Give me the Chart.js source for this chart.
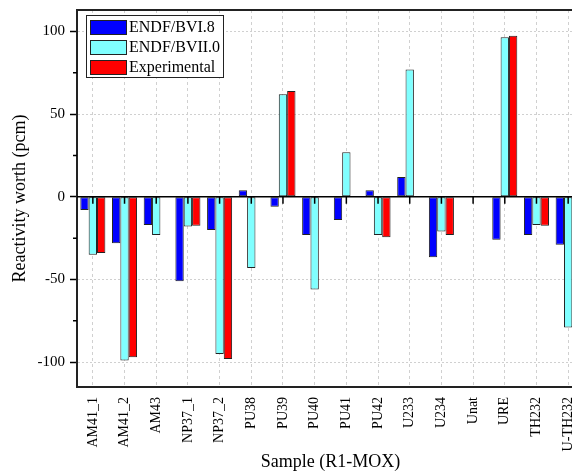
<!DOCTYPE html>
<html>
<head>
<meta charset="utf-8">
<script src="https://cdn.jsdelivr.net/npm/chart.js@4"></script>
<style>
  html, body { margin: 0; padding: 0; overflow: hidden; background: #fff; }
</style>
</head>
<body>
<canvas id="worth_chart" width="584" height="473"></canvas>
<script>
const categories = ['AM41_1', 'AM41_2', 'AM43', 'NP37_1', 'NP37_2', 'PU38', 'PU39', 'PU40',
                    'PU41', 'PU42', 'U233', 'U234', 'Unat', 'URE', 'TH232', 'U-TH232'];
const endfb68 = [-8, -28, -17, -51, -20, 4, -6, -23, -14, 4, 12, -36.5, null, -26, -23, -29];
const endfb70 = [-35, -99, -23, -18, -95, -43, 62, -56, 27, -23, 77, -21, null, 96.5, -17, -79];
const experimental = [-34, -97, null, -17.5, -98, null, 64, null, null, -24.5, null, -23, null, 97.5, -17.5, null];
const minorTicks = [-75, -25, 25, 75];

const serif = 'Liberation Serif, Times New Roman, serif';

// zero line, ticks on it, top border, minor y ticks
const framePlugin = {
    id: 'frame',
    afterDatasetsDraw(chart) {
        const { ctx, chartArea, scales } = chart;
        const y0 = scales.y.getPixelForValue(0);
        ctx.save();
        ctx.strokeStyle = '#000';
        ctx.lineWidth = 1.5;
        ctx.beginPath();
        ctx.moveTo(chartArea.left, y0);
        ctx.lineTo(chartArea.right, y0);
        categories.forEach((c, i) => {
            const x = scales.x.getPixelForValue(i);
            ctx.moveTo(x, y0);
            ctx.lineTo(x, y0 + 7);
        });
        ctx.stroke();
        ctx.beginPath();
        minorTicks.forEach(v => {
            const y = scales.y.getPixelForValue(v);
            ctx.moveTo(chartArea.left - 4, y);
            ctx.lineTo(chartArea.left, y);
        });
        ctx.stroke();
        ctx.strokeStyle = '#222';
        ctx.lineWidth = 2;
        ctx.beginPath();
        ctx.moveTo(chartArea.left, chartArea.top);
        ctx.lineTo(chartArea.right, chartArea.top);
        ctx.stroke();
        ctx.restore();
    }
};

// boxed legend inside the plot
const boxLegend = {
    id: 'boxLegend',
    afterDraw(chart) {
        const ctx = chart.ctx;
        ctx.save();
        ctx.fillStyle = '#fff';
        ctx.fillRect(86, 15, 137, 62);
        ctx.strokeStyle = '#222';
        ctx.lineWidth = 1;
        ctx.strokeRect(86.5, 15.5, 137, 62);
        ctx.font = '16px ' + serif;
        ctx.textBaseline = 'middle';
        chart.data.datasets.forEach((ds, i) => {
            const top = 20 + i * 20;
            ctx.fillStyle = ds.backgroundColor;
            ctx.fillRect(90, top, 36, 14);
            ctx.strokeStyle = '#222';
            ctx.strokeRect(90.5, top + 0.5, 36, 14);
            ctx.fillStyle = '#000';
            ctx.fillText(ds.label, 129, top + 7.5);
        });
        ctx.restore();
    }
};

const ctx = document.getElementById('worth_chart').getContext('2d');

new Chart(ctx, {
    type: 'bar',
    data: {
        labels: categories,
        datasets: [
            { label: 'ENDF/BVI.8', data: endfb68, backgroundColor: '#0000ff' },
            { label: 'ENDF/BVII.0', data: endfb70, backgroundColor: '#80ffff' },
            { label: 'Experimental', data: experimental, backgroundColor: '#ff0000' }
        ]
    },
    options: {
        responsive: false,
        animation: false,
        layout: { padding: { top: 10, left: 0, right: 0, bottom: 0 } },
        datasets: {
            bar: {
                borderColor: '#222',
                borderWidth: 1,
                borderSkipped: false,
                categoryPercentage: 0.79,
                barPercentage: 1.0
            }
        },
        scales: {
            x: {
                afterFit(scale) {
                    scale.height = 86;
                    scale.paddingLeft = 0;
                    scale.paddingRight = 0;
                },
                grid: {
                    offset: false,
                    drawTicks: false,
                    color: '#d0d0d0',
                    lineWidth: 1
                },
                border: { display: true, color: '#222', width: 2, dash: [3, 3] },
                ticks: {
                    color: '#000',
                    font: { family: serif, size: 14 },
                    minRotation: 90,
                    maxRotation: 90,
                    padding: 10,
                    autoSkip: false
                },
                title: {
                    display: true,
                    text: 'Sample (R1-MOX)',
                    color: '#000',
                    font: { family: serif, size: 18 },
                    padding: { top: 0, bottom: 0 }
                }
            },
            y: {
                min: -115,
                max: 113,
                afterFit(scale) {
                    scale.width = 77;
                    scale.paddingTop = 0;
                    scale.paddingBottom = 0;
                },
                grid: {
                    color: c => (c.tick && c.tick.value % 50 === 0 && c.tick.value !== 0) ? '#d0d0d0' : 'rgba(0,0,0,0)',
                    tickColor: '#000',
                    tickLength: 7,
                    tickWidth: 1.5
                },
                border: { display: true, color: '#222', width: 2, dash: [2, 2] },
                ticks: {
                    stepSize: 50,
                    includeBounds: false,
                    color: '#000',
                    padding: 5,
                    font: { family: serif, size: 15 },
                    callback: v => String(v)
                },
                title: {
                    display: true,
                    text: 'Reactivity worth (pcm)',
                    color: '#000',
                    font: { family: serif, size: 18 },
                    padding: { top: 9, bottom: 0 }
                }
            }
        },
        plugins: {
            legend: { display: false },
            tooltip: { enabled: false }
        }
    },
    plugins: [framePlugin, boxLegend]
});
</script>
</body>
</html>
